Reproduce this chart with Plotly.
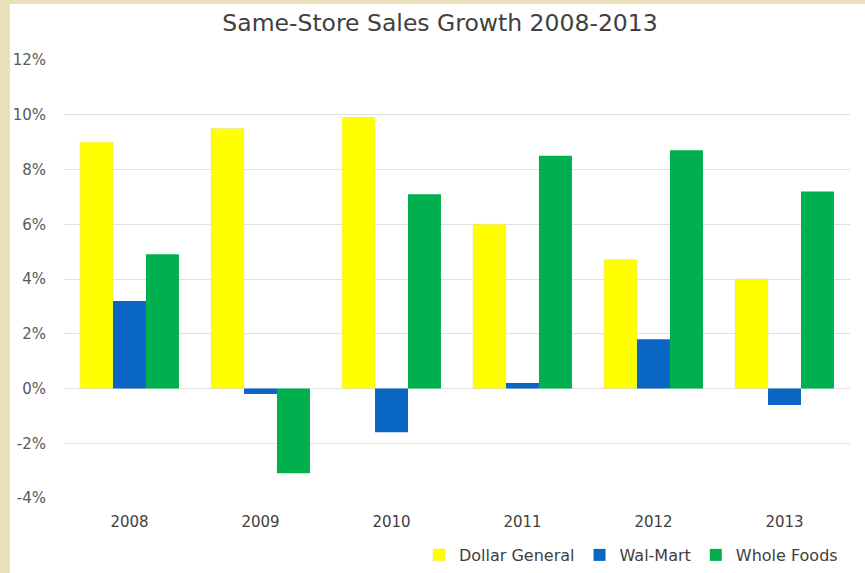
import plotly.graph_objects as go

years = ["2008", "2009", "2010", "2011", "2012", "2013"]
dollar_general = [9.0, 9.5, 9.9, 6.0, 4.7, 4.0]
wal_mart = [3.2, -0.2, -1.6, 0.2, 1.8, -0.6]
whole_foods = [4.9, -3.1, 7.1, 8.5, 8.7, 7.2]
y_ticks = [-4, -2, 0, 2, 4, 6, 8, 10, 12]
y_tick_labels = ["-4%", "-2%", "0%", "2%", "4%", "6%", "8%", "10%", "12%"]

FONT = "DejaVu Sans"
fig = go.Figure()
fig.add_bar(x=years, y=dollar_general, name="Dollar General",
            marker=dict(color="#FFFF00", line=dict(color="#E0DCA0", width=0.5)))
fig.add_bar(x=years, y=wal_mart, name="Wal-Mart",
            marker=dict(color="#0A66C4", line=dict(width=0)))
fig.add_bar(x=years, y=whole_foods, name="Whole Foods",
            marker=dict(color="#00B04E", line=dict(width=0)))

L, R, T, B = 64, 15, 60, 75
W, H = 865, 573
pw = W - L - R
ph = H - T - B
fig.add_shape(type="rect", xref="paper", yref="paper", layer="below",
              x0=(10 - L) / pw, x1=(W - L + 5) / pw,
              y0=-(B + 5) / ph, y1=1 + (T - 4) / ph,
              fillcolor="white", line=dict(width=0))

fig.update_layout(
    width=W, height=H,
    margin=dict(l=L, r=R, t=T, b=B, autoexpand=False),
    paper_bgcolor="#EBE0BA",
    plot_bgcolor="rgba(0,0,0,0)",
    barmode="group", bargap=0.245, bargroupgap=0,
    font=dict(family=FONT, color="#595959"),
    title=dict(text="Same-Store Sales Growth 2008-2013", x=440 / W, xref="container",
               xanchor="center", y=1 - 23 / H, yanchor="middle",
               font=dict(family=FONT, size=23.5, color="#404040")),
    showlegend=True,
    legend=dict(orientation="h", x=(843 - L) / pw, xanchor="right", y=-(555 - (H - B)) / ph,
                yanchor="middle", font=dict(family=FONT, size=16, color="#404040"),
                bgcolor="rgba(0,0,0,0)", itemwidth=30, tracegroupgap=0),
)
fig.update_yaxes(range=[-4, 12], tickvals=y_ticks, ticktext=y_tick_labels,
                 showgrid=True, gridcolor="#E0E0E0", gridwidth=1, zeroline=False,
                 tickfont=dict(family=FONT, size=15, color="#595959"),
                 ticks="", ticklabelstandoff=17, fixedrange=True)
fig.update_xaxes(showgrid=False, showline=False, tickfont=dict(family=FONT, size=15, color="#404040"),
                 ticks="", ticklabelstandoff=13)

fig.write_html("out.html")
